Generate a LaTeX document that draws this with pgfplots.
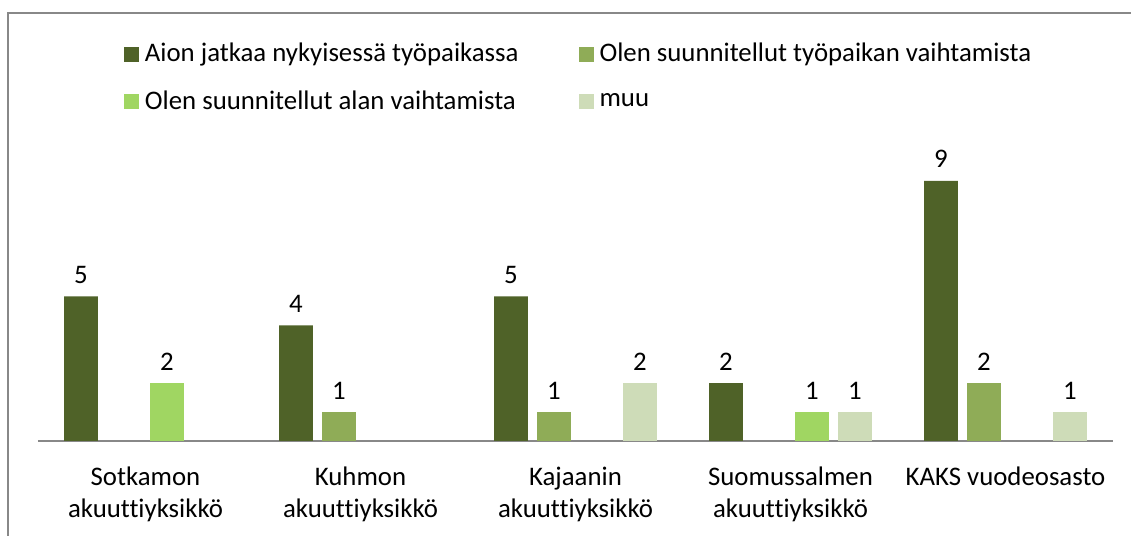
\documentclass[border=0pt]{standalone}
\usepackage{pgfplots}
\pgfplotsset{compat=1.18}
\usepackage{fontspec}
\setmainfont{Carlito}[Ligatures=NoCommon]

\definecolor{cA}{HTML}{4F6228}
\definecolor{cB}{HTML}{8FAC57}
\definecolor{cC}{HTML}{A0D662}
\definecolor{cD}{HTML}{CEDCB8}
\definecolor{frame}{HTML}{888888}

\begin{document}
\begin{tikzpicture}
\useasboundingbox (0,0) rectangle (565.5pt,268pt);
\draw[frame, line width=1pt] (4pt,-1pt) -- (4pt,261.5pt) -- (566pt,261.5pt);
\begin{axis}[
    at={(19pt,47.5pt)}, anchor=south west,
    scale only axis,
    width=537.5pt, height=144.5pt,
    ybar, bar width=0.158,
    xmin=-0.5, xmax=4.5,
    ymin=0, ymax=10,
    axis x line*=bottom,
    axis y line=none,
    x axis line style={frame, line width=1pt},
    xtick={0,1,2,3,4},
    xticklabels={Sotkamon\\akuuttiyksikkö, Kuhmon\\akuuttiyksikkö, Kajaanin\\akuuttiyksikkö, Suomussalmen\\akuuttiyksikkö, KAKS vuodeosasto},
    xtick style={draw=none},
    xticklabel style={align=center, font=\fontsize{13.4}{16}\selectfont, anchor=north, yshift=-5pt},
    /pgf/number format/assume math mode=true,
    nodes near coords,
    nodes near coords style={font=\fontsize{13.4}{15}\selectfont, anchor=south, yshift=3pt},
    legend columns=2,
    legend cell align=left,
    legend style={draw=none, fill=none, at={(0.074,1.405)}, anchor=north west,
        font=\fontsize{13.4}{15}\selectfont,
        row sep=9pt,
        /tikz/every odd column/.style={column sep=1pt},
        /tikz/column 2/.style={column sep=28pt}},
    legend image code/.code={\fill[#1] (0pt,-3.75pt) rectangle (7.5pt,3.75pt);},
]
\addplot[fill=cA, draw=none, bar shift=-0.3] coordinates {(0,5) (1,4) (2,5) (3,2) (4,9)};
\addplot[fill=cB, draw=none, bar shift=-0.1] coordinates {(1,1) (2,1) (4,2)};
\addplot[fill=cC, draw=none, bar shift=0.1] coordinates {(0,2) (3,1)};
\addplot[fill=cD, draw=none, bar shift=0.3] coordinates {(2,2) (3,1) (4,1)};
\legend{Aion jatkaa nykyisessä työpaikassa, Olen suunnitellut työpaikan vaihtamista, Olen suunnitellut alan vaihtamista, muu}
\end{axis}
\end{tikzpicture}
\end{document}
